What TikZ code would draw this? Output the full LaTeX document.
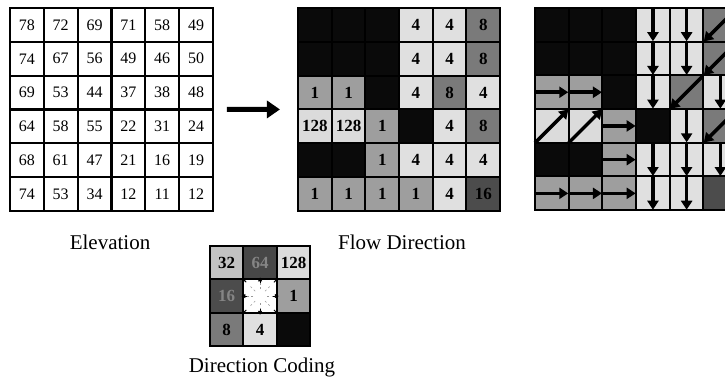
\documentclass[tikz,border=0pt]{standalone}
\usepackage{fontspec}
\setmainfont{Liberation Serif}
\usetikzlibrary{arrows.meta,fit}

% grey tones used for the eight direction codes
\definecolor{dirA}{gray}{0.62}   % 1  east
\definecolor{dirB}{gray}{0.04}   % 2  south-east
\definecolor{dirC}{gray}{0.88}   % 4  south
\definecolor{dirD}{gray}{0.48}   % 8  south-west
\definecolor{dirE}{gray}{0.30}   % 16 west
\definecolor{dirF}{gray}{0.76}   % 32 north-west
\definecolor{dirG}{gray}{0.28}   % 64 north
\definecolor{dirH}{gray}{0.86}   % 128 north-east

\begin{document}
\begin{tikzpicture}[x=1pt,y=-1pt,
  every node/.style={inner sep=0pt, outer sep=0pt},
  ecell/.style={draw=black, line width=2pt, fill=white, minimum size=33.8pt,
    font=\fontsize{16}{16}\selectfont},
  fcell/.style={draw=black, line width=2pt, minimum size=33.8pt,
    font=\fontsize{17}{17}\selectfont\bfseries},
  dcell/.style={draw=black, line width=2pt, minimum size=33.4pt,
    font=\fontsize{17}{17}\selectfont\bfseries},
  code1/.style={fill=dirA},
  code2/.style={fill=dirB},
  code4/.style={fill=dirC},
  code8/.style={fill=dirD},
  code16/.style={fill=dirE},
  code32/.style={fill=dirF},
  code64/.style={fill=dirG},
  code128/.style={fill=dirH},
  flowarrow/.style={line width=3.5pt, -{Triangle[width=11pt,length=9pt]}, shorten >=0.5pt},
  tinyarrow/.style={line width=0.9pt, -{Triangle[width=4pt,length=4pt]}},
  bigarrow/.style={line width=5pt, -{Triangle[width=17pt,length=13pt]}},
  captiontext/.style={font=\fontsize{21}{21}\selectfont}
]
\useasboundingbox (0,0) rectangle (725,382);
\clip (0,0) rectangle (725,382);

% elevation grid
\foreach \row [count=\r from 0] in {{78,72,69,71,58,49},{74,67,56,49,46,50},
    {69,53,44,37,38,48},{64,58,55,22,31,24},{68,61,47,21,16,19},{74,53,34,12,11,12}} {
  \foreach \v [count=\c from 0] in \row {
    \node[ecell] (e\r\c) at ({10+33.83*(\c+0.5)},{8+33.83*(\r+0.5)}) {\v};
  }
}
\node[fit=(e00)(e55)] (elev) {};

% flow direction grid (codes)
\foreach \row [count=\r from 0] in {{2,2,2,4,4,8},{2,2,2,4,4,8},{1,1,2,4,8,4},
    {128,128,1,2,4,8},{2,2,1,4,4,4},{1,1,1,1,4,16}} {
  \foreach \v [count=\c from 0] in \row {
    \node[fcell, code\v] (f\r\c) at ({298+33.7*(\c+0.5)},{8+33.8*(\r+0.5)})
      {\ifnum\v=2 \else\v\fi};
  }
}
\node[fit=(f00)(f55)] (flow) {};

% flow direction grid (arrows)
\foreach \row [count=\r from 0] in {{2,2,2,4,4,8},{2,2,2,4,4,8},{1,1,2,4,8,4},
    {128,128,1,2,4,8},{2,2,1,4,4,4},{1,1,1,4,4,16}} {
  \foreach \v [count=\c from 0] in \row {
    \node[fcell, code\v] (a\r\c) at ({535+33.7*(\c+0.5)},{8+33.7*(\r+0.5)}) {};
    \ifnum\v=1 \draw[flowarrow] (a\r\c.west) -- (a\r\c.east); \fi
    \ifnum\v=4 \draw[flowarrow] (a\r\c.north) -- (a\r\c.south); \fi
    \ifnum\v=8 \draw[flowarrow] (a\r\c.north east) -- (a\r\c.south west); \fi
    \ifnum\v=128 \draw[flowarrow] (a\r\c.south west) -- (a\r\c.north east); \fi
  }
}

% arrow from elevation to flow direction
\draw[bigarrow, shorten <=14pt, shorten >=18pt] (elev) -- (flow);

% direction coding key
\node[dcell, code32]  (d00) at ({210+33.4*0.5},{246+33.4*0.5}) {32};
\node[dcell, code64, text=black!48]  (d01) at ({210+33.4*1.5},{246+33.4*0.5}) {64};
\node[dcell, code128] (d02) at ({210+33.4*2.5},{246+33.4*0.5}) {128};
\node[dcell, code16, text=black!48]  (d10) at ({210+33.4*0.5},{246+33.4*1.5}) {16};
\node[dcell, fill=white] (dc) at ({210+33.4*1.5},{246+33.4*1.5}) {};
\node[dcell, code1]   (d12) at ({210+33.4*2.5},{246+33.4*1.5}) {1};
\node[dcell, code8]   (d20) at ({210+33.4*0.5},{246+33.4*2.5}) {8};
\node[dcell, code4]   (d21) at ({210+33.4*1.5},{246+33.4*2.5}) {4};
\node[dcell, code2]   (d22) at ({210+33.4*2.5},{246+33.4*2.5}) {};

% radial hints and small arrowheads in the centre cell
\foreach \ang in {0,45,...,315}
  \draw[black!40, line width=0.5pt, dash pattern=on 2pt off 2.5pt]
    (dc) ++(\ang:7) -- ++(\ang:7);
\foreach \anch/\ang in {east/0, south east/45, south/90, south west/135,
                        west/180, north west/225, north/270, north east/315}
  \draw[tinyarrow] ([shift={(\ang:-4)}]dc.\anch) -- ([shift={(\ang:2)}]dc.\anch);

% captions
\node[captiontext] (elevcap) at (110,242) {Elevation};
\node[captiontext] (flowcap) at (402,242) {Flow Direction};
\node[captiontext] (dircap)  at (262,367) {Direction Coding};
\end{tikzpicture}
\end{document}
